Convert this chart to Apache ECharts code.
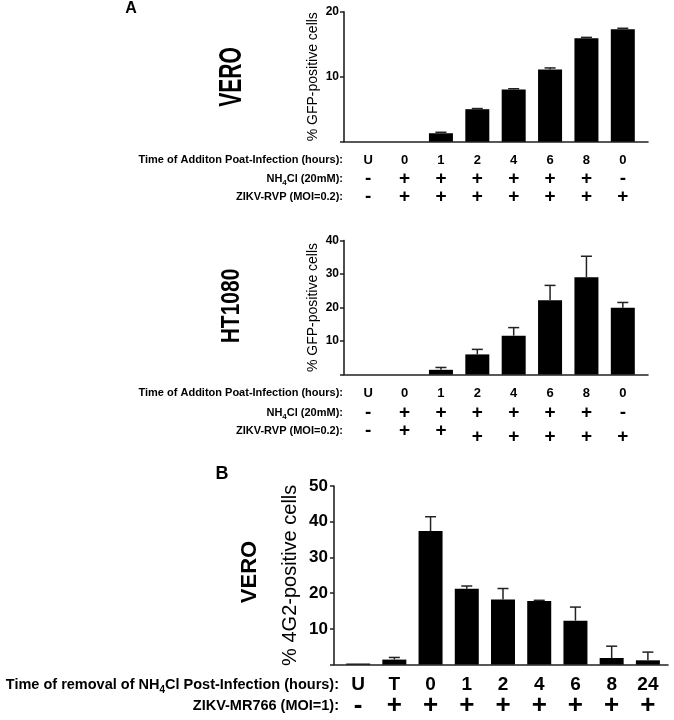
<!DOCTYPE html>
<html lang="en" style="height: 100%">
<head>
    <meta charset="UTF-8">
    <title>NH4Cl time of addition / removal</title>
    <script src="https://cdn.jsdelivr.net/npm/echarts@6/dist/echarts.min.js"></script>
</head>
<body style="height: 100%; margin: 0; background: #fff">
    <div id="main" style="width: 674px; height: 720px"></div>
    <script>
        // panel A, VERO
        var veroCats = ['U', '0', '1', '2', '4', '6', '8', '0'];
        var veroNH4 = ['-', '+', '+', '+', '+', '+', '+', '-'];
        var veroZikv = ['-', '+', '+', '+', '+', '+', '+', '+'];
        var veroMean = [0, 0, 1.3, 5.0, 8.05, 11.1, 15.9, 17.3];
        var veroErr = [0, 0, 0.15, 0.1, 0.1, 0.25, 0.15, 0.15];

        // panel A, HT1080
        var htCats = ['U', '0', '1', '2', '4', '6', '8', '0'];
        var htNH4 = ['-', '+', '+', '+', '+', '+', '+', '-'];
        var htZikv = ['-', '+', '+', '+', '+', '+', '+', '+'];
        var htMean = [0, 0, 1.4, 6.0, 11.6, 22.2, 29.0, 19.9];
        var htErr = [0, 0, 0.7, 1.5, 2.4, 4.4, 6.3, 1.6];

        // panel B, VERO
        var bCats = ['U', 'T', '0', '1', '2', '4', '6', '8', '24'];
        var bZikv = ['-', '+', '+', '+', '+', '+', '+', '+', '+'];
        var bMean = [0.3, 1.4, 37.4, 21.2, 18.2, 17.8, 12.3, 1.85, 1.2];
        var bErr = [0, 0.6, 4.0, 0.8, 3.1, 0.2, 3.8, 3.3, 2.3];

        var FONT = '"Liberation Sans", Arial, Helvetica, sans-serif';
        var INK = '#222';

        var chart = echarts.init(document.getElementById('main'));

        // empty value axis, only used to draw the baseline of a frame grid
        function frameX(grid) {
            return {
                type: 'value', gridIndex: grid, min: 0, max: 1,
                axisLine: { show: true, onZero: false, lineStyle: { color: INK, width: 1.6 } },
                axisTick: { show: false }, axisLabel: { show: false }, splitLine: { show: false }
            };
        }

        function frameY(grid, max, step, name, tickSize, nameSize, nameGap, margin) {
            return {
                type: 'value', gridIndex: grid, min: 0, max: max, interval: step,
                axisLine: { show: true, onZero: false, lineStyle: { color: INK, width: 1.6 } },
                axisTick: { show: true, length: 4, lineStyle: { color: INK, width: 1.5 } },
                axisLabel: {
                    margin: margin, fontSize: tickSize, fontWeight: 'bold', color: '#000', fontFamily: FONT,
                    formatter: function (v) { return v === 0 ? '' : v; }
                },
                splitLine: { show: false },
                name: name, nameLocation: 'middle', nameGap: nameGap,
                nameTextStyle: { fontSize: nameSize, color: '#000', fontFamily: FONT }
            };
        }

        function hiddenY(grid, max) {
            return { type: 'value', gridIndex: grid, min: 0, max: max, show: false };
        }

        // one row of the table under a chart: a category axis whose labels are the row cells
        function rowAxis(grid, data, name, offset, size, nameSize, subSize, gap) {
            return {
                type: 'category', gridIndex: grid, position: 'bottom', offset: offset, data: data,
                axisLine: { show: false, onZero: false }, axisTick: { show: false }, splitLine: { show: false },
                axisLabel: {
                    interval: 0, margin: 0, verticalAlign: 'middle',
                    fontSize: size, fontWeight: 'bold', color: '#000', fontFamily: FONT
                },
                name: name, nameLocation: 'start', nameGap: gap,
                nameTextStyle: {
                    fontSize: nameSize, fontWeight: 'bold', color: '#000', fontFamily: FONT,
                    align: 'right', verticalAlign: 'middle',
                    rich: {
                        sub: { fontSize: subSize, fontWeight: 'bold', color: '#000', fontFamily: FONT, padding: [subSize, 0, 0, 0] }
                    }
                }
            };
        }

        function errBar(params, api) {
            var e = api.value(2);
            if (!e) return null;
            var p0 = api.coord([api.value(0), api.value(1)]);
            var p1 = api.coord([api.value(0), api.value(1) + e]);
            var hw = 5.5;
            return {
                type: 'group',
                children: [
                    { type: 'line', shape: { x1: p0[0], y1: p0[1], x2: p1[0], y2: p1[1] }, style: { stroke: INK, lineWidth: 1.5 } },
                    { type: 'line', shape: { x1: p1[0] - hw, y1: p1[1], x2: p1[0] + hw, y2: p1[1] }, style: { stroke: INK, lineWidth: 1.5 } }
                ]
            };
        }

        function barSeries(x, y, values) {
            return {
                type: 'bar', xAxisIndex: x, yAxisIndex: y, data: values, barWidth: 24,
                itemStyle: { color: '#000' }, silent: true, animation: false
            };
        }

        function errSeries(x, y, values, errs) {
            return {
                type: 'custom', xAxisIndex: x, yAxisIndex: y, renderItem: errBar, z: 3,
                encode: { x: 0, y: 1 }, silent: true, animation: false,
                data: values.map(function (v, i) { return [i, v, errs[i]]; })
            };
        }

        var rowTime = 'Time of Additon Poat-Infection (hours):';
        var rowNH4 = 'NH{sub|4}Cl (20mM):';
        var rowZikv = 'ZIKV-RVP (MOI=0.2):';

        // in the HT1080 table the last five crosses of the virus row sit a little lower
        var htZikvHigh = htZikv.map(function (s, i) { return i < 3 ? s : ''; });
        var htZikvLow = htZikv.map(function (s, i) { return i < 3 ? '' : s; });

        var option = {
            animation: false,
            textStyle: { fontFamily: FONT },
            grid: [
                { left: 344, top: 11.7, width: 304, height: 130 },
                { left: 350, top: 11.7, width: 291, height: 130 },
                { left: 344, top: 240.5, width: 304, height: 134 },
                { left: 350, top: 240.5, width: 291, height: 134 },
                { left: 334, top: 486, width: 334, height: 178.6 },
                { left: 340, top: 486, width: 326, height: 178.6 }
            ],
            xAxis: [
                frameX(0),                                                      // 0
                rowAxis(1, veroCats, rowTime, 18.5, 13, 11, 8, 7),              // 1
                rowAxis(1, veroNH4, rowNH4, 37, 19, 11, 8, 7),                  // 2
                rowAxis(1, veroZikv, rowZikv, 55.5, 19, 11, 8, 7),              // 3
                frameX(2),                                                      // 4
                rowAxis(3, htCats, rowTime, 18.5, 13, 11, 8, 7),                // 5
                rowAxis(3, htNH4, rowNH4, 38.5, 19, 11, 8, 7),                  // 6
                rowAxis(3, htZikvHigh, rowZikv, 56, 19, 11, 8, 7),              // 7
                rowAxis(3, htZikvLow, '', 62, 19, 11, 8, 7),                    // 8
                frameX(4),                                                      // 9
                rowAxis(5, bCats, 'Time of removal of NH{sub|4}Cl Post-Infection (hours):', 20.5, 19, 14.5, 10, 1), // 10
                rowAxis(5, bZikv, 'ZIKV-MR766 (MOI=1):', 41.5, 26, 14.5, 10, 1)  // 11
            ],
            yAxis: [
                frameY(0, 20, 10, '% GFP-positive cells', 12, 14, 24, 5),
                hiddenY(1, 20),
                frameY(2, 40, 10, '% GFP-positive cells', 12, 14, 24, 5),
                hiddenY(3, 40),
                frameY(4, 50, 10, '% 4G2-positive cells', 17, 20, 34, 6),
                hiddenY(5, 50)
            ],
            series: [
                barSeries(1, 1, veroMean),
                errSeries(1, 1, veroMean, veroErr),
                barSeries(5, 3, htMean),
                errSeries(5, 3, htMean, htErr),
                barSeries(10, 5, bMean),
                errSeries(10, 5, bMean, bErr)
            ],
            graphic: [
                { type: 'text', x: 131, y: 9, style: { text: 'A', font: 'bold 16px ' + FONT, fill: '#000', align: 'center', verticalAlign: 'middle' } },
                { type: 'text', x: 222, y: 474, style: { text: 'B', font: 'bold 18px ' + FONT, fill: '#000', align: 'center', verticalAlign: 'middle' } },
                { type: 'text', x: 232, y: 77, rotation: Math.PI / 2, scaleX: 0.68, style: { text: 'VERO', font: 'bold 31px ' + FONT, fill: '#000', align: 'center', verticalAlign: 'middle' } },
                { type: 'text', x: 232, y: 306, rotation: Math.PI / 2, scaleX: 0.84, style: { text: 'HT1080', font: 'bold 25px ' + FONT, fill: '#000', align: 'center', verticalAlign: 'middle' } },
                { type: 'text', x: 250, y: 572, rotation: Math.PI / 2, style: { text: 'VERO', font: 'bold 22px ' + FONT, fill: '#000', align: 'center', verticalAlign: 'middle' } }
            ]
        };

        chart.setOption(option);
    </script>
</body>
</html>
